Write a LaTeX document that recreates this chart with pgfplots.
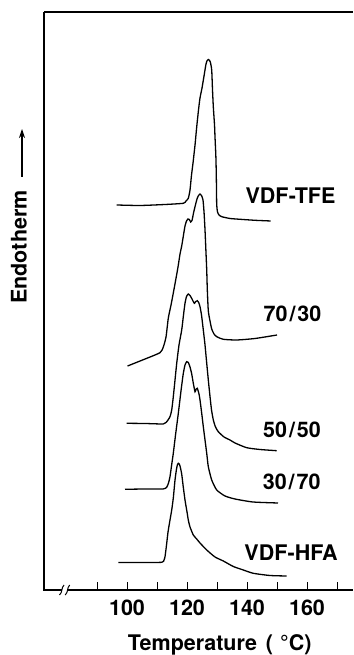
\documentclass[border=0pt]{standalone}
\usepackage{pgfplots}
\pgfplotsset{compat=1.18}
\usepackage{fontspec}
\setmainfont{TeX Gyre Heros}
\usetikzlibrary{arrows.meta}

\newcommand{\lbl}{\fontsize{21.5}{21.5}\selectfont\bfseries}
\pgfplotsset{thermogram/.style={black, line width=1.3pt, mark=none, smooth, tension=0.35}}

\begin{document}
\begin{tikzpicture}
\begin{axis}[
  at={(44pt,65pt)}, anchor=south west,
  scale only axis, width=309pt, height=578pt,
  xmin=72.33, xmax=175.33, ymin=0, ymax=578,
  axis line style={draw=none},
  xtick={90,100,...,170},
  xticklabels={,100,,120,,140,,160,},
  xtick pos=lower, tick align=inside,
  major tick length=8pt,
  ytick=\empty,
  x tick style={black, line width=1pt},
  xticklabel style={font=\lbl, yshift=-6pt},
  /pgf/number format/assume math mode=true,
  clip=false,
]
% frame: left and top lines, broken bottom line
\draw[line width=1.3pt] (axis cs:72.33,578) -- (axis cs:72.33,0) -- (axis cs:78.2,0);
\draw[line width=1.3pt] (axis cs:80.2,0) -- (axis cs:175.33,0);
\draw[line width=1.3pt] (axis cs:72.33,578) -- (axis cs:175.33,578);
\draw[line width=1pt] (axis cs:77.5,-5) .. controls (axis cs:78.6,-2) and (axis cs:78.0,2) .. (axis cs:79.0,5);
\draw[line width=1pt] (axis cs:79.4,-5) .. controls (axis cs:80.5,-2) and (axis cs:79.9,2) .. (axis cs:80.9,5);

% VDF-TFE
\addplot[thermogram] coordinates {
(96.57,385) (104.33,384.5) (112.67,385.5) (118.77,386.7) (119.67,389) (120.43,391.7)
(121.0,400) (121.5,415) (122.0,427) (122.67,445) (123.23,463) (123.83,480)
(124.33,492) (125.0,502) (125.67,514) (126.33,526) (126.73,529.5) (127.1,530.5)
(127.47,529.7) (127.77,528) (128.23,520) (128.5,500) (128.77,483) (129.17,465)
(129.33,453) (129.6,435) (129.73,420) (129.83,400) (129.9,385) (130.17,378)
(130.67,375) (131.57,373.3) (134.33,371.5) (137.67,370.7) (142.67,369.7) (147.9,369)
};

% 70/30
\addplot[thermogram] coordinates {
(100.17,224) (106.0,231) (111.0,237.3) (112.1,243) (113.0,253) (113.77,272)
(114.67,285) (115.43,297) (116.23,310) (117.0,323) (117.67,336) (118.23,344)
(118.83,355) (119.33,364) (119.83,369) (120.33,371) (120.77,370.5) (121.23,368)
(121.67,369.5) (122.17,377) (122.67,383.3) (123.33,391) (123.83,394.5) (124.33,396)
(124.83,394.5) (125.33,390) (125.67,378) (126.0,360) (126.33,337) (126.57,320)
(126.77,300) (127.1,279) (127.67,269) (128.23,261) (129.0,256) (129.9,253.3)
(132.1,250.7) (136.57,250) (142.67,251.5) (150.0,255)
};

% 50/50
\addplot[thermogram] coordinates {
(99.9,166.7) (106.0,166.5) (112.1,166) (113.0,167.5) (113.67,170) (114.33,173.3)
(114.9,180) (115.43,193.3) (116.0,210) (116.57,226.7) (117.33,245) (118.23,260)
(118.83,275) (119.33,286.7) (119.83,293.5) (120.43,296) (121.0,294.5) (121.67,291)
(122.43,286.7) (122.93,288.5) (123.43,289.3) (123.9,287.5) (124.33,283.3) (124.83,275)
(125.43,260) (126.0,245) (126.57,226.7) (127.1,210) (127.67,193.3) (128.17,180)
(128.77,170) (129.5,163) (130.43,158.3) (132.33,153) (134.33,150) (136.0,147)
(139.9,142.3) (144.33,140.5) (149.9,139.3)
};

% 30/70
\addplot[thermogram] coordinates {
(99.33,100.7) (106.0,101) (112.0,101) (113.23,102.7) (113.83,107) (114.33,113.3)
(114.83,124) (115.43,136.7) (116.17,155) (117.1,176.7) (117.83,195) (118.33,207)
(118.77,216.7) (119.33,225) (119.9,228.3) (120.43,227.5) (121.0,223) (121.57,216)
(122.1,206.7) (122.67,198.3) (123.07,201) (123.43,201.7) (124.0,196) (124.33,190)
(124.9,176.7) (125.43,163.3) (126.0,150) (126.57,136.7) (127.1,123.3) (128.23,110)
(129.9,100) (132.67,94) (136.0,91) (142.0,88) (150.33,87)
};

% VDF-HFA
\addplot[thermogram] coordinates {
(97.1,27.5) (104.33,27.5) (111.57,27.7) (112.33,30) (112.67,33.3) (113.17,45)
(113.67,58) (114.33,70) (114.9,80) (115.43,92) (116.0,110) (116.5,121)
(116.83,125.5) (117.1,126.7) (117.4,126) (117.67,124) (118.23,116) (118.67,105)
(119.33,90) (120.0,78) (120.43,70) (121.0,63) (122.1,55) (123.23,51)
(124.33,47) (126.57,40) (129.33,33) (132.1,29) (135.43,23.5) (138.77,20)
(142.1,16.7) (147.67,14.5) (153.23,14)
};
\end{axis}

% curve labels
\node[font=\lbl] at (290.5pt,459pt) {VDF-TFE};
\node[font=\lbl] at (292.5pt,341pt) {70\kern2pt/\kern2pt30};
\node[font=\lbl] at (292pt,225pt) {50\kern2pt/\kern2pt50};
\node[font=\lbl] at (291.7pt,173.5pt) {30\kern2pt/\kern2pt70};
\node[font=\lbl] at (291pt,102pt) {VDF-HFA};

% axis titles
\node[font=\lbl] at (219.7pt,10pt) {Temperature\hspace{9pt}(\hspace{7pt}°C)};
\node[font=\lbl, rotate=90] at (19pt,408pt) {Endotherm};
\draw[line width=1.2pt, -{Stealth[length=9pt,width=6pt]}] (22pt,478pt) -- (22pt,526pt);

\pgfresetboundingbox
\useasboundingbox (0pt,0pt) rectangle (353pt,655pt);
\end{tikzpicture}
\end{document}
